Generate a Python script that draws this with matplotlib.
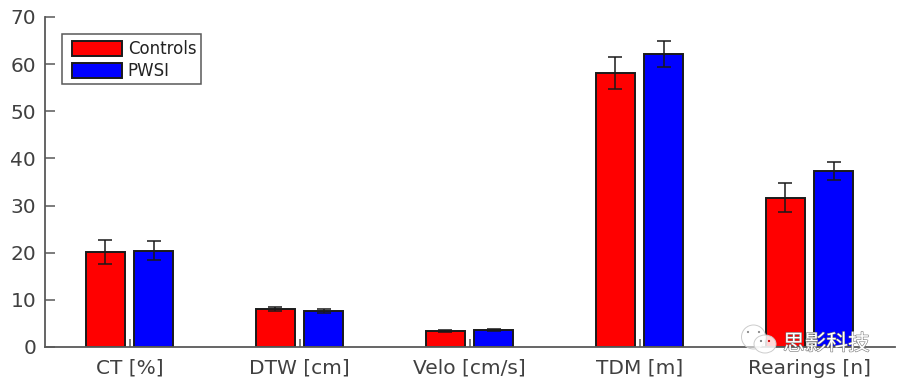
import matplotlib
matplotlib.use("Agg")
import matplotlib.pyplot as plt
import matplotlib.patheffects as pe
from matplotlib.patches import Ellipse, Rectangle
import numpy as np

categories = ["CT [%]", "DTW [cm]", "Velo [cm/s]", "TDM [m]", "Rearings [n]"]
controls = [20.2, 8.0, 3.4, 58.1, 31.7]
pwsi = [20.4, 7.7, 3.7, 62.2, 37.3]
controls_err = [2.6, 0.4, 0.25, 3.4, 3.0]
pwsi_err = [2.0, 0.4, 0.2, 2.7, 1.9]
yticks = [0, 10, 20, 30, 40, 50, 60, 70]
watermark = "思影科技"

W, H = 899, 381
fig = plt.figure(figsize=(W / 100, H / 100), dpi=100)
ax = fig.add_axes([44.5 / W, 1 - 347 / H, 850 / W, 330 / H])
x = np.arange(1, len(categories) + 1)
off, w = 0.1415, 0.23
TC = "#404040"
b1 = ax.bar(x - off, controls, w, color="#ff0000", edgecolor="#1a1a1a", linewidth=1.4, label="Controls", zorder=2)
b2 = ax.bar(x + off, pwsi, w, color="#0000ff", edgecolor="#1a1a1a", linewidth=1.4, label="PWSI", zorder=2)
ekw = dict(fmt="none", ecolor="#1a1a1a", elinewidth=1.1, capsize=5.3, capthick=1.1, zorder=3)
ax.errorbar(x - off, controls, yerr=controls_err, **ekw)
ax.errorbar(x + off, pwsi, yerr=pwsi_err, **ekw)

ax.set_xlim(0.5, 5.5)
ax.set_ylim(0, 70)
ax.set_xticks(x, categories)
ax.set_yticks(yticks)
ax.tick_params(axis="x", direction="in", length=6, width=1.1, color="#595959", labelcolor=TC, labelsize=14.5, pad=8.5)
ax.tick_params(axis="y", direction="in", length=7, width=1.1, color="#595959", labelcolor=TC, labelsize=14.5, pad=6)
for s in ("top", "right"):
    ax.spines[s].set_visible(False)
for s in ("left", "bottom"):
    ax.spines[s].set_color("#595959")
    ax.spines[s].set_linewidth(1.3)

fig.add_artist(Rectangle((62 / W, 1 - 84 / H), 139 / W, 50 / H, transform=fig.transFigure,
                         facecolor="white", edgecolor="#595959", linewidth=1.1, zorder=4))
leg = fig.legend(handles=[b1, b2], loc="upper left", bbox_to_anchor=(72 / W, 1 - 40.5 / H),
                 bbox_transform=fig.transFigure, fontsize=12, frameon=False, borderaxespad=0, borderpad=0,
                 handlelength=3.0, handleheight=1.0, handletextpad=0.35, labelspacing=0.22, labelcolor="#222222")
leg.set_zorder(5)

# watermark overlay
for cx, cy, ew, eh, a in [(753.5, 337, 24, 24, 0.55), (765, 344, 22, 18, 0.85)]:
    fig.add_artist(Ellipse((cx / W, 1 - cy / H), ew / W, eh / H, transform=fig.transFigure,
                           facecolor=(1, 1, 1, a), edgecolor="#cccccc", linewidth=0.7, zorder=9))
for cx, cy, c in [(748, 332, "#888888"), (759, 332, "#888888"), (761, 341, "#777777"), (769, 341, "#cc0000")]:
    fig.add_artist(Ellipse((cx / W, 1 - cy / H), 2.2 / W, 2.2 / H, transform=fig.transFigure,
                           facecolor=c, edgecolor="none", zorder=9.5))
fig.text(783 / W, 1 - 350 / H, watermark, fontsize=15.6, color="white",
         family=["Noto Sans CJK SC", "DejaVu Sans"], ha="left", va="baseline", zorder=10,
         path_effects=[pe.withStroke(linewidth=0.8, foreground="#777777")])
fig.savefig("out.png", dpi=100)
